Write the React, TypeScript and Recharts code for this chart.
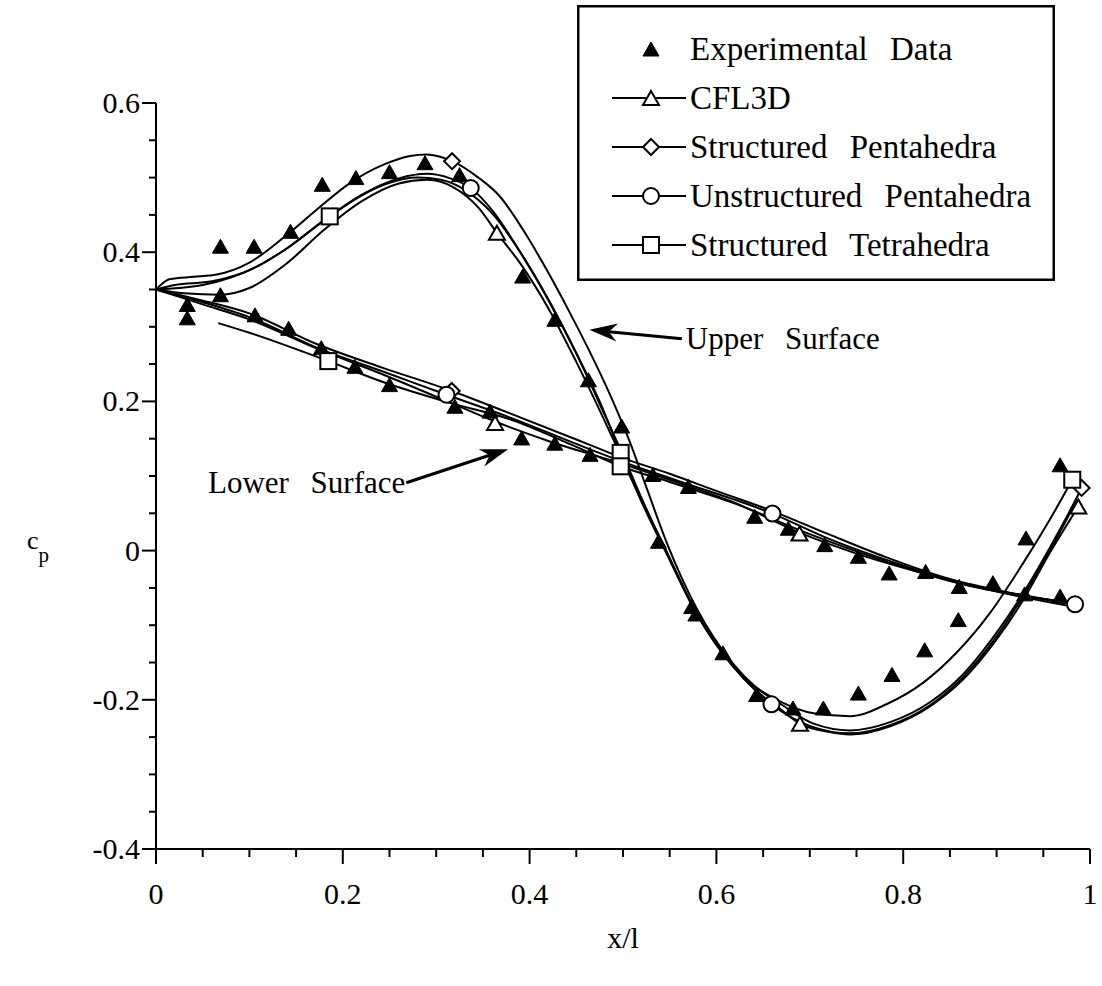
import React from 'react';
import { ComposedChart, Line, Scatter, XAxis, YAxis, Legend, ReferenceLine } from 'recharts';

const FONT = '"Liberation Serif", "Times New Roman", serif';

// axis ticks (major every 0.2, minor every 0.05)
const xTicks = [0, 0.05, 0.1, 0.15, 0.2, 0.25, 0.3, 0.35, 0.4, 0.45, 0.5, 0.55, 0.6, 0.65, 0.7, 0.75, 0.8, 0.85, 0.9, 0.95, 1];
const yTicks = [-0.4, -0.35, -0.3, -0.25, -0.2, -0.15, -0.1, -0.05, 0, 0.05, 0.1, 0.15, 0.2, 0.25, 0.3, 0.35, 0.4, 0.45, 0.5, 0.55, 0.6];

// experimental cp
const expUpper = [
  [0.0335, 0.33], [0.069, 0.408], [0.105, 0.408], [0.144, 0.428], [0.178, 0.491], [0.214, 0.5],
  [0.25, 0.508], [0.288, 0.52], [0.325, 0.504], [0.3926, 0.368], [0.427, 0.31], [0.463, 0.229],
  [0.4986, 0.167], [0.538, 0.0125], [0.5735, -0.075], [0.578, -0.085], [0.607, -0.137], [0.643, -0.193],
  [0.682, -0.211], [0.7145, -0.211], [0.752, -0.191], [0.788, -0.166], [0.823, -0.133], [0.859, -0.0925],
  [0.896, -0.043], [0.9315, 0.017], [0.968, 0.115],
];
const expLower = [
  [0.0335, 0.312], [0.069, 0.343], [0.106, 0.316], [0.142, 0.298], [0.177, 0.272], [0.213, 0.247],
  [0.25, 0.2225], [0.32, 0.1935], [0.3576, 0.187], [0.3915, 0.151], [0.427, 0.144], [0.4647, 0.129],
  [0.532, 0.102], [0.57, 0.086], [0.641, 0.046], [0.677, 0.03], [0.716, 0.008], [0.752, -0.0076],
  [0.785, -0.03], [0.824, -0.028], [0.86, -0.048], [0.93, -0.058], [0.968, -0.061],
];

// CFL3D
const cflUpper = [
  [0, 0.35], [0.03, 0.345], [0.069, 0.343], [0.1, 0.352], [0.14, 0.385], [0.18, 0.43], [0.22, 0.468],
  [0.26, 0.492], [0.29, 0.497], [0.32, 0.486], [0.345, 0.46], [0.365, 0.426], [0.39, 0.385], [0.42, 0.325],
  [0.45, 0.253], [0.49, 0.148], [0.515, 0.08], [0.547, -0.002], [0.579, -0.085], [0.618, -0.156],
  [0.641, -0.186], [0.668, -0.212], [0.6895, -0.232], [0.72, -0.243], [0.743, -0.2466], [0.786, -0.2355],
  [0.8287, -0.2088], [0.864, -0.173], [0.9, -0.119], [0.9286, -0.066], [0.957, -0.003], [0.9875, 0.059],
];
const cflLower = [
  [0, 0.35], [0.05, 0.33], [0.1, 0.31], [0.172, 0.271], [0.243, 0.236], [0.31, 0.201], [0.363, 0.173],
  [0.42, 0.147], [0.5, 0.116], [0.55, 0.095], [0.62, 0.064], [0.689, 0.024], [0.75, -0.004],
  [0.82, -0.03], [0.9, -0.055], [0.99, -0.077],
];
const cflMarks = [[0.365, 0.426], [0.363, 0.171], [0.689, 0.023], [0.6895, -0.232], [0.9875, 0.059]];

// Structured Pentahedra
const spUpper = [
  [0, 0.35], [0.015, 0.364], [0.04, 0.367], [0.065, 0.37], [0.1, 0.386], [0.136, 0.419], [0.172, 0.457],
  [0.208, 0.493], [0.243, 0.517], [0.272, 0.529], [0.29, 0.531], [0.317, 0.522], [0.343, 0.502],
  [0.368, 0.475], [0.393, 0.43], [0.418, 0.377], [0.443, 0.319], [0.465, 0.265], [0.485, 0.212],
  [0.5075, 0.145], [0.525, 0.085], [0.547, 0.01], [0.579, -0.078], [0.618, -0.152], [0.641, -0.182],
  [0.668, -0.205], [0.704, -0.232], [0.743, -0.241], [0.786, -0.23], [0.829, -0.203], [0.864, -0.166],
  [0.9, -0.11], [0.929, -0.056], [0.957, 0.004], [0.975, 0.045], [0.991, 0.084],
];
const spLower = [
  [0, 0.35], [0.047, 0.336], [0.1, 0.318], [0.172, 0.277], [0.243, 0.245], [0.3166, 0.214], [0.379, 0.184],
  [0.45, 0.149], [0.5, 0.124], [0.55, 0.103], [0.6, 0.08], [0.66, 0.053], [0.72, 0.022], [0.78, -0.008],
  [0.85, -0.038], [0.92, -0.058], [0.99, -0.074],
];
const spMarks = [[0.317, 0.522], [0.3166, 0.214], [0.991, 0.084]];

// Unstructured Pentahedra
const upUpper = [
  [0, 0.35], [0.02, 0.356], [0.06, 0.361], [0.1, 0.376], [0.14, 0.405], [0.18, 0.443], [0.22, 0.477],
  [0.26, 0.499], [0.29, 0.505], [0.315, 0.499], [0.337, 0.486], [0.36, 0.456], [0.39, 0.4], [0.42, 0.336],
  [0.45, 0.264], [0.48, 0.183], [0.5, 0.128], [0.52, 0.07], [0.547, -0.003], [0.579, -0.084],
  [0.618, -0.155], [0.659, -0.206], [0.7, -0.235], [0.743, -0.245], [0.786, -0.234], [0.829, -0.207],
  [0.864, -0.17], [0.9, -0.115], [0.929, -0.06], [0.957, 0.0], [0.986, 0.068],
];
const upLower = [
  [0, 0.35], [0.05, 0.333], [0.1, 0.313], [0.172, 0.272], [0.243, 0.24], [0.311, 0.209], [0.38, 0.178],
  [0.45, 0.143], [0.5, 0.119], [0.56, 0.093], [0.66, 0.0496], [0.72, 0.016], [0.8, -0.02],
  [0.87, -0.046], [0.93, -0.06], [0.984, -0.072],
];
const upMarks = [[0.337, 0.486], [0.311, 0.209], [0.66, 0.0496], [0.659, -0.206], [0.984, -0.072]];

// Structured Tetrahedra
const stUpper = [
  [0, 0.35], [0.025, 0.352], [0.05, 0.356], [0.08, 0.366], [0.11, 0.382], [0.14, 0.405], [0.186, 0.448],
  [0.22, 0.476], [0.25, 0.493], [0.28, 0.5], [0.305, 0.497], [0.33, 0.484], [0.36, 0.452], [0.39, 0.4],
  [0.42, 0.337], [0.45, 0.265], [0.475, 0.2], [0.4975, 0.131], [0.52, 0.065], [0.547, -0.005],
  [0.579, -0.085], [0.618, -0.154], [0.641, -0.182], [0.668, -0.202], [0.704, -0.218], [0.743, -0.222],
  [0.782, -0.206], [0.8215, -0.177], [0.857, -0.137], [0.893, -0.0835], [0.9286, -0.0165],
  [0.957, 0.0416], [0.981, 0.095],
];
const stLower = [
  [0.0667, 0.305], [0.1, 0.292], [0.1845, 0.254], [0.243, 0.226], [0.315, 0.198], [0.379, 0.176],
  [0.45, 0.139], [0.4975, 0.113], [0.55, 0.092], [0.62, 0.063], [0.7, 0.022], [0.78, -0.014],
  [0.86, -0.044], [0.93, -0.061], [0.98, -0.07],
];
const stMarks = [[0.186, 0.448], [0.1845, 0.254], [0.4975, 0.131], [0.4975, 0.113], [0.981, 0.095]];

const legendNames = ['Experimental Data', 'CFL3D', 'Structured Pentahedra', 'Unstructured Pentahedra', 'Structured Tetrahedra'];
const legendMarkers = ['filled', 'triangle', 'diamond', 'circle', 'square'];

const toPts = (arr: number[][]) => arr.map(([x, y]) => ({ x, y }));

const isMajor = (v: number) => Math.abs(v * 5 - Math.round(v * 5)) < 1e-6;
const fmt = (v: number) => String(Math.round(v * 10) / 10);

function drawMarker(kind: string, cx: number, cy: number) {
  switch (kind) {
    case 'filled':
      return <polygon points={`${cx},${cy - 7} ${cx - 8},${cy + 7} ${cx + 8},${cy + 7}`} fill="#000" stroke="#000" strokeWidth={1} />;
    case 'triangle':
      return <polygon points={`${cx},${cy - 7} ${cx - 8},${cy + 7} ${cx + 8},${cy + 7}`} fill="#fff" stroke="#000" strokeWidth={2} />;
    case 'diamond':
      return <polygon points={`${cx},${cy - 8} ${cx + 8},${cy} ${cx},${cy + 8} ${cx - 8},${cy}`} fill="#fff" stroke="#000" strokeWidth={2} />;
    case 'circle':
      return <circle cx={cx} cy={cy} r={8} fill="#fff" stroke="#000" strokeWidth={2} />;
    default:
      return <rect x={cx - 8} y={cy - 8} width={16} height={16} fill="#fff" stroke="#000" strokeWidth={2} />;
  }
}

const shapeOf = (kind: string) => (p: any) => drawMarker(kind, p.cx, p.cy);

function XTick(props: any) {
  const { x, y, payload } = props;
  const major = isMajor(payload.value);
  return (
    <g>
      <line x1={x} y1={y} x2={x} y2={y + (major ? 15 : 8)} stroke="#000" strokeWidth={2} />
      {major && (
        <text x={x} y={y + 55} textAnchor="middle" fontFamily={FONT} fontSize={30} fill="#000">
          {fmt(payload.value)}
        </text>
      )}
    </g>
  );
}

function YTick(props: any) {
  const { x, y, payload } = props;
  const major = isMajor(payload.value);
  return (
    <g>
      <line x1={x} y1={y} x2={x - (major ? 14 : 7)} y2={y} stroke="#000" strokeWidth={2} />
      {major && (
        <text x={x - 16} y={y + 10} textAnchor="end" fontFamily={FONT} fontSize={30} fill="#000">
          {fmt(payload.value)}
        </text>
      )}
    </g>
  );
}

function LegendBox() {
  return (
    <svg width={478} height={276} style={{ display: 'block' }}>
      <rect x={1.25} y={1.25} width={475.5} height={273.5} fill="#fff" stroke="#000" strokeWidth={2.5} />
      {legendNames.map((name, i) => {
        const cy = 44 + i * 49;
        const kind = legendMarkers[i];
        return (
          <g key={name}>
            {kind !== 'filled' && <line x1={35} y1={cy} x2={109} y2={cy} stroke="#000" strokeWidth={2} />}
            {drawMarker(kind, 74, cy)}
            <text x={113} y={cy + 11} fontFamily={FONT} fontSize={33} wordSpacing={14} fill="#000">
              {name}
            </text>
          </g>
        );
      })}
    </svg>
  );
}

function makeArrow(label: string, side: 'start' | 'end') {
  return (p: any) => {
    const { x1, y1, x2, y2 } = p;
    const ang = Math.atan2(y2 - y1, x2 - x1);
    const c = Math.cos(ang);
    const s = Math.sin(ang);
    const L = 28;
    const W = 9;
    const bx = x2 - L * c;
    const by = y2 - L * s;
    const nx = x2 - L * 0.7 * c;
    const ny = y2 - L * 0.7 * s;
    const head = `${x2},${y2} ${bx - s * W},${by + c * W} ${nx},${ny} ${bx + s * W},${by - c * W}`;
    return (
      <g>
        <line x1={x1} y1={y1} x2={nx} y2={ny} stroke="#000" strokeWidth={3} />
        <polygon points={head} fill="#000" />
        <text
          x={side === 'start' ? x1 + 4 : x1 - 1}
          y={y1 + 10}
          textAnchor={side}
          fontFamily={FONT}
          fontSize={31}
          wordSpacing={14}
          fill="#000"
        >
          {label}
        </text>
      </g>
    );
  };
}

const lineProps = {
  dataKey: 'y',
  type: 'monotone' as const,
  stroke: '#000',
  strokeWidth: 2,
  dot: false,
  activeDot: false,
  isAnimationActive: false,
  legendType: 'none' as const,
};

export default function App() {
  const curves = [cflUpper, cflLower, spUpper, spLower, upUpper, upLower, stUpper, stLower];
  const marks: [number[][], string][] = [
    [cflMarks, 'triangle'],
    [spMarks, 'diamond'],
    [upMarks, 'circle'],
    [stMarks, 'square'],
  ];
  return (
    <div style={{ position: 'absolute', left: 0, top: 0, width: 1102, height: 986, background: '#fff' }}>
      <ComposedChart width={1102} height={986} margin={{ top: 103, right: 12, bottom: 97, left: 96 }}>
        <XAxis
          type="number"
          dataKey="x"
          domain={[0, 1]}
          ticks={xTicks}
          interval={0}
          tickSize={0}
          tickMargin={0}
          tickLine={false}
          tick={(p: any) => <XTick {...p} />}
          axisLine={{ stroke: '#000', strokeWidth: 2 }}
          height={40}
          label={{
            content: (p: any) => (
              <text
                x={p.viewBox.x + p.viewBox.width / 2}
                y={p.viewBox.y + 99}
                textAnchor="middle"
                fontFamily={FONT}
                fontSize={30}
                fill="#000"
              >
                x/l
              </text>
            ),
          }}
        />
        <YAxis
          type="number"
          dataKey="y"
          domain={[-0.4, 0.6]}
          ticks={yTicks}
          interval={0}
          tickSize={0}
          tickMargin={0}
          tickLine={false}
          tick={(p: any) => <YTick {...p} />}
          axisLine={{ stroke: '#000', strokeWidth: 2 }}
          width={60}
          label={{
            content: (p: any) => (
              <text x={p.viewBox.x - 69} y={p.viewBox.y + 446} fontFamily={FONT} fontSize={26} fill="#000">
                c
                <tspan dx={0} dy={13} fontSize={21}>
                  p
                </tspan>
              </text>
            ),
          }}
        />
        {curves.map((c, i) => (
          <Line key={`c${i}`} data={toPts(c)} {...lineProps} />
        ))}
        <Scatter
          data={toPts([...expUpper, ...expLower])}
          shape={shapeOf('filled')}
          isAnimationActive={false}
          legendType="none"
        />
        {marks.map(([m, kind]) => (
          <Scatter key={kind} data={toPts(m)} shape={shapeOf(kind)} isAnimationActive={false} legendType="none" />
        ))}
        <ReferenceLine
          segment={[{ x: 0.563, y: 0.284 }, { x: 0.464, y: 0.296 }]}
          shape={makeArrow('Upper Surface', 'start')}
        />
        <ReferenceLine
          segment={[{ x: 0.268, y: 0.091 }, { x: 0.377, y: 0.136 }]}
          shape={makeArrow('Lower Surface', 'end')}
        />
        <Legend
          layout="horizontal"
          verticalAlign="middle"
          align="center"
          content={() => <LegendBox />}
          wrapperStyle={{ left: 577, top: 5, width: 478, height: 276 }}
        />
      </ComposedChart>
    </div>
  );
}
